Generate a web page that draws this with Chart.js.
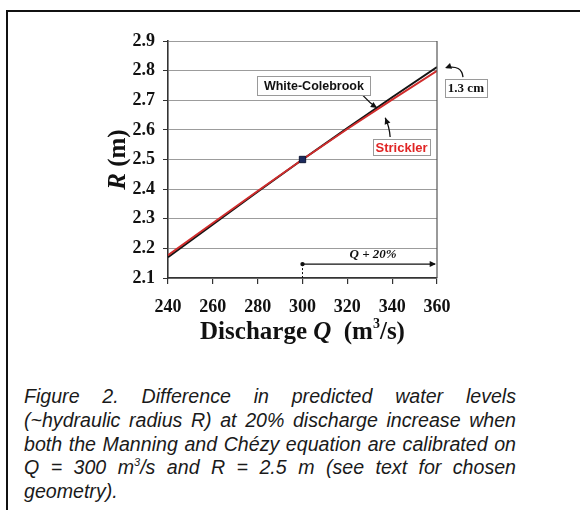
<!DOCTYPE html>
<html>
<head>
<meta charset="utf-8">
<script src="https://cdn.jsdelivr.net/npm/chart.js@4"></script>
<style>
  html, body { margin: 0; padding: 0; background: #fff; }
  body { width: 580px; height: 510px; position: relative; overflow: hidden; }
  #frame {
    position: absolute; left: 6px; top: 10px; width: 600px; height: 600px;
    border: 2.5px solid #111; box-sizing: border-box;
  }
  #wrap { position: absolute; left: 0; top: 0; width: 580px; height: 360px; }
  #caption {
    position: absolute; left: 24px; top: 385px; width: 492px;
    font-family: "Liberation Sans", Arial, sans-serif; font-style: italic;
    font-size: 19.6px; line-height: 23.8px; color: #1a1a1a;
  }
  #caption div { text-align: justify; text-align-last: justify; white-space: nowrap; }
  #caption div.last { text-align-last: left; }
  #caption sup { font-size: 11px; vertical-align: 8px; line-height: 0; }
</style>
</head>
<body>
<div id="frame"></div>
<div id="wrap"><canvas id="myChart" width="580" height="360"></canvas></div>
<div id="caption">
  <div>Figure 2. Difference in predicted water levels</div>
  <div>(~hydraulic radius R) at 20% discharge increase when</div>
  <div>both the Manning and Chézy equation are calibrated on</div>
  <div>Q = 300 m<sup>3</sup>/s and R = 2.5 m (see text for chosen</div>
  <div class="last">geometry).</div>
</div>
<script>
// discharge (m3/s) and hydraulic radius (m) for both friction laws
const discharge = [240, 260, 280, 300, 320, 340, 360];
const rWhiteColebrook = [2.170, 2.281, 2.391, 2.500, 2.606, 2.710, 2.812];
const rStrickler = [2.177, 2.286, 2.394, 2.500, 2.603, 2.702, 2.799];

// calibration point
const calibQ = [300];
const calibR = [2.5];

// axis ticks
const qTicks = [240, 260, 280, 300, 320, 340, 360];
const rTicks = [2.1, 2.2, 2.3, 2.4, 2.5, 2.6, 2.7, 2.8, 2.9];

// Q + 20% range
const qIncrease = [300, 360];

const serif = '"Liberation Serif", "Times New Roman", serif';
const sans = '"Liberation Sans", Arial, sans-serif';

function toXY(xs, ys) {
    return xs.map((x, i) => ({ x: x, y: ys[i] }));
}

// draws a sequence of [text, font, dy] parts, left to right
function drawParts(ctx, parts, x, y) {
    let cx = x;
    parts.forEach(p => {
        ctx.font = p[1];
        ctx.fillText(p[0], cx, y + (p[2] || 0));
        cx += ctx.measureText(p[0]).width;
    });
}
function partsWidth(ctx, parts) {
    let w = 0;
    parts.forEach(p => { ctx.font = p[1]; w += ctx.measureText(p[0]).width; });
    return w;
}

function arrowHead(ctx, x1, y1, x2, y2, size) {
    const a = Math.atan2(y2 - y1, x2 - x1);
    ctx.beginPath();
    ctx.moveTo(x2, y2);
    ctx.lineTo(x2 - size * Math.cos(a - 0.45), y2 - size * Math.sin(a - 0.45));
    ctx.lineTo(x2 - size * Math.cos(a + 0.45), y2 - size * Math.sin(a + 0.45));
    ctx.closePath();
    ctx.fill();
}

function labelBox(ctx, text, font, color, cx, cy, w, h) {
    ctx.fillStyle = '#fff';
    ctx.fillRect(cx - w / 2, cy - h / 2, w, h);
    ctx.strokeStyle = '#9a9a9a';
    ctx.lineWidth = 1;
    ctx.strokeRect(Math.round(cx - w / 2) + 0.5, Math.round(cy - h / 2) + 0.5, w, h);
    ctx.fillStyle = color;
    ctx.font = font;
    ctx.textAlign = 'center';
    ctx.textBaseline = 'middle';
    ctx.fillText(text, cx, cy + 1);
}

const decorations = {
    id: 'decorations',
    afterDraw(chart) {
        const ctx = chart.ctx;
        const xs = chart.scales.x, ys = chart.scales.y;
        const area = chart.chartArea;
        const px = v => xs.getPixelForValue(v);
        const py = v => ys.getPixelForValue(v);
        ctx.save();

        // right border of the plot
        ctx.strokeStyle = '#555';
        ctx.lineWidth = 1.2;
        ctx.beginPath();
        ctx.moveTo(area.right, area.top);
        ctx.lineTo(area.right, area.bottom);
        ctx.stroke();

        // axis titles
        ctx.fillStyle = '#111';
        ctx.textAlign = 'left';
        ctx.textBaseline = 'alphabetic';
        const xt = [
            ['Discharge ', 'bold 25px ' + serif],
            ['Q', 'italic bold 25px ' + serif],
            ['  (m', 'bold 25px ' + serif],
            ['3', 'bold 14px ' + serif, -11],
            ['/s)', 'bold 25px ' + serif]
        ];
        drawParts(ctx, xt, (area.left + area.right) / 2 - partsWidth(ctx, xt) / 2, 339);

        const yt = [
            ['R', 'italic bold 25px ' + serif],
            [' (m)', 'bold 25px ' + serif]
        ];
        ctx.save();
        ctx.translate(125, (area.top + area.bottom) / 2);
        ctx.rotate(-Math.PI / 2);
        drawParts(ctx, yt, -partsWidth(ctx, yt) / 2, 0);
        ctx.restore();

        // Q + 20% arrow
        const yArrow = py(2.147);
        ctx.strokeStyle = '#111';
        ctx.fillStyle = '#111';
        ctx.lineWidth = 1.3;
        ctx.beginPath();
        ctx.moveTo(px(qIncrease[0]), yArrow);
        ctx.lineTo(px(qIncrease[1]) - 2, yArrow);
        ctx.stroke();
        arrowHead(ctx, px(qIncrease[0]), yArrow, px(qIncrease[1]) - 1, yArrow, 7);
        ctx.beginPath();
        ctx.arc(px(qIncrease[0]), yArrow, 2.2, 0, Math.PI * 2);
        ctx.fill();
        ctx.setLineDash([2, 2]);
        ctx.lineWidth = 1;
        ctx.beginPath();
        ctx.moveTo(px(qIncrease[0]), yArrow);
        ctx.lineTo(px(qIncrease[0]), area.bottom);
        ctx.stroke();
        ctx.setLineDash([]);
        ctx.textBaseline = 'middle';
        const qt = [
            ['Q', 'italic bold 13px ' + serif],
            [' + 20%', 'italic bold 13px ' + serif]
        ];
        drawParts(ctx, qt, px(331.5) - partsWidth(ctx, qt) / 2, py(2.178));

        // arrows to the curves
        ctx.lineWidth = 1.3;
        ctx.beginPath();
        ctx.moveTo(px(326.7), py(2.718));
        ctx.quadraticCurveTo(px(330), py(2.69), px(333.3), py(2.674));
        ctx.stroke();
        arrowHead(ctx, px(330), py(2.69), px(333.3), py(2.674), 7);

        ctx.beginPath();
        ctx.moveTo(px(339.1), py(2.576));
        ctx.quadraticCurveTo(px(338.8), py(2.61), px(336.9), py(2.641));
        ctx.stroke();
        arrowHead(ctx, px(338), py(2.62), px(336.9), py(2.641), 7);

        ctx.beginPath();
        ctx.moveTo(px(371.6), py(2.778));
        ctx.quadraticCurveTo(px(371), py(2.82), px(364.2), py(2.81));
        ctx.stroke();
        arrowHead(ctx, px(367), py(2.818), px(363.6), py(2.809), 7);

        // label boxes
        labelBox(ctx, 'White-Colebrook', 'bold 12.5px ' + sans, '#111', px(305.1), py(2.750), 113, 19);
        labelBox(ctx, 'Strickler', 'bold 13px ' + sans, '#e02424', px(344.2), py(2.541), 57, 16);
        labelBox(ctx, '1.3 cm', 'bold 13px ' + serif, '#111', px(372.9), py(2.742), 42, 18);

        ctx.restore();
    }
};

const ctx = document.getElementById('myChart').getContext('2d');

const myChart = new Chart(ctx, {
    type: 'line',
    data: {
        datasets: [{
            label: 'White-Colebrook',
            data: toXY(discharge, rWhiteColebrook),
            borderColor: '#141414',
            borderWidth: 2,
            pointRadius: 0,
            order: 2
        }, {
            label: 'Strickler',
            data: toXY(discharge, rStrickler),
            borderColor: '#d02c2c',
            borderWidth: 1.9,
            pointRadius: 0,
            order: 1
        }, {
            type: 'scatter',
            label: 'Calibration',
            data: toXY(calibQ, calibR),
            pointStyle: 'rect',
            pointRadius: 4.5,
            backgroundColor: '#1c2b5e',
            borderColor: '#0d1634',
            borderWidth: 1,
            order: 0
        }]
    },
    options: {
        responsive: false,
        animation: false,
        events: [],
        layout: { padding: { left: 0, right: 143, top: 41, bottom: 0 } },
        plugins: {
            legend: { display: false },
            tooltip: { enabled: false }
        },
        scales: {
            x: {
                type: 'linear',
                min: qTicks[0],
                max: qTicks[qTicks.length - 1],
                afterFit: s => { s.height = 82; },
                afterBuildTicks: s => { s.ticks = qTicks.map(v => ({ value: v })); },
                ticks: {
                    padding: 13,
                    color: '#111',
                    font: { family: serif, size: 18, weight: 'bold' }
                },
                grid: { drawOnChartArea: false, tickLength: 6, tickColor: '#333', lineWidth: 1.2 },
                border: { color: '#333', width: 1.6 }
            },
            y: {
                type: 'linear',
                min: rTicks[0],
                max: rTicks[rTicks.length - 1],
                afterFit: s => { s.width = 168; },
                afterBuildTicks: s => { s.ticks = rTicks.map(v => ({ value: v })); },
                ticks: {
                    padding: 8,
                    color: '#111',
                    font: { family: serif, size: 18, weight: 'bold' },
                    callback: v => v.toFixed(1)
                },
                grid: { color: '#9c9c9c', lineWidth: 1, tickLength: 5, tickColor: '#333' },
                border: { color: '#333', width: 1.6 }
            }
        }
    },
    plugins: [decorations]
});
</script>
</body>
</html>
